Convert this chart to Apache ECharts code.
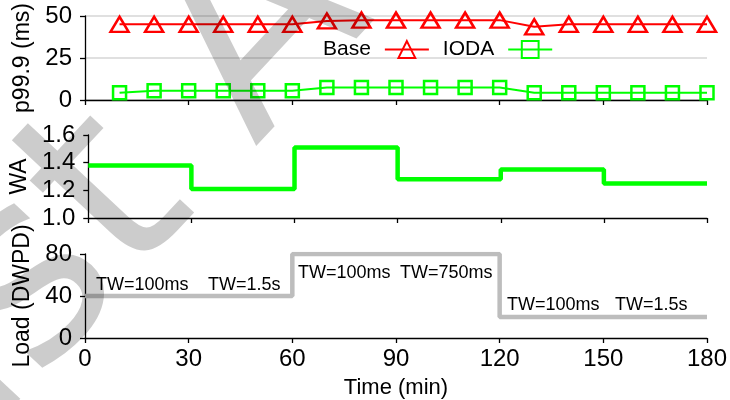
<!DOCTYPE html>
<html>
<head>
<meta charset="utf-8">
<script src="https://cdn.jsdelivr.net/npm/echarts@6/dist/echarts.min.js"></script>
<style>html,body{margin:0;padding:0;background:#fff;}#c{width:730px;height:400px;}</style>
</head>
<body>
<div id="c"></div>
<script>
// ---- data ----
const sampleTimes = [10,20,30,40,50,60,70,80,90,100,110,120,130,140,150,160,170,180];
const baseP999 = [45,45,45,45,45,45,47,47.5,47.5,47.5,47.5,47.5,43.5,45,45,45,45,45];
const iodaP999 = [4.3,5.5,5.5,5.5,5.5,5.5,7.5,7.5,7.5,7.5,7.5,7.5,4.3,4.3,4.3,4.3,4.3,4.3];
const waTimes = [0,30,60,90,120,150,180];
const waValues = [1.38,1.21,1.51,1.28,1.35,1.25,1.25];
const loadTimes = [0,60,120,180];
const loadValues = [40,80,20,20];
const seriesNames = ['Base','IODA'];
const twLabels = ['TW=100ms','TW=1.5s','TW=100ms','TW=750ms','TW=100ms','TW=1.5s'];
const p999Ticks = [0,25,50];
const waTicks = [1.0,1.2,1.4,1.6];
const loadTicks = [0,40,80];
const timeTicks = [0,30,60,90,120,150,180];

// ---- layout/style ----
const FONT = "'Liberation Sans', Arial, Helvetica, sans-serif";
const zip = (xs, ys) => xs.map((x, i) => [x, ys[i]]);
const twPos = [[96,285],[208,285],[298,273],[400,273],[507,305],[615,305]];

function xAxisFor(gi, labels) {
  return {
    type: 'value', gridIndex: gi, min: timeTicks[0], max: timeTicks[timeTicks.length-1], interval: 30,
    axisLine: {show: true, onZero: false, lineStyle: {color: '#000', width: 1.3}},
    axisTick: {show: true, inside: false, length: 5, lineStyle: {color: '#000', width: 1.3}},
    axisLabel: {show: labels, color: '#000', fontSize: 24, fontFamily: FONT, margin: 9},
    splitLine: {show: false},
    name: labels ? 'Time (min)' : '', nameLocation: 'middle', nameGap: 39,
    nameTextStyle: {color: '#000', fontSize: 22, fontFamily: FONT}
  };
}
function yAxisFor(gi, ticks, name, split, fmt) {
  return {
    type: 'value', gridIndex: gi, min: ticks[0], max: ticks[ticks.length-1], interval: ticks[1]-ticks[0],
    axisLine: {show: true, lineStyle: {color: '#000', width: 1.3}},
    axisTick: {show: true, inside: false, length: 5, lineStyle: {color: '#000', width: 1.3}},
    axisLabel: {color: '#000', fontSize: 24, fontFamily: FONT, margin: 13, formatter: fmt},
    splitLine: {show: split, lineStyle: {color: '#d6d6d6', width: 1.5}},
    name: name, nameLocation: 'middle', nameRotate: 90, nameGap: 46,
    nameTextStyle: {color: '#000', fontSize: 23, fontFamily: FONT}
  };
}

const graphics = twLabels.map((t, i) => ({
  type: 'text', x: twPos[i][0], y: twPos[i][1], z: 50,
  style: {text: t, fontSize: 18, fontFamily: FONT, fill: '#000', align: 'left', verticalAlign: 'middle'}
}));
graphics.push({
  type: 'text', x: 427, y: -136, rotation: 0.82, z: 100, silent: true,
  style: {text: 'Just Accepted', fontSize: 260, fontFamily: "'DejaVu Sans', sans-serif", fill: 'rgba(0,0,0,0.2)', align: 'center', verticalAlign: 'middle'}
});

const chart = echarts.init(document.getElementById('c'), null, {renderer: 'canvas'});
chart.setOption({
  animation: false,
  backgroundColor: '#fff',
  textStyle: {fontFamily: FONT},
  grid: [
    {left: 85, right: 23, top: 15, height: 85},
    {left: 85, right: 23, top: 135, height: 83},
    {left: 85, right: 23, top: 254, height: 84}
  ],
  xAxis: [xAxisFor(0, false), xAxisFor(1, false), xAxisFor(2, true)],
  yAxis: [
    yAxisFor(0, p999Ticks, 'p99.9 (ms)', true),
    yAxisFor(1, waTicks, 'WA', false, v => v.toFixed(1)),
    yAxisFor(2, loadTicks, 'Load (DWPD)', false)
  ],
  legend: {
    data: seriesNames, left: 318, top: 34, align: 'right', itemGap: 13,
    itemWidth: 44, itemHeight: 21,
    textStyle: {color: '#000', fontSize: 21, fontFamily: FONT, padding: [0, 9, 0, 0]}
  },
  series: [
    {
      name: seriesNames[0], type: 'line', xAxisIndex: 0, yAxisIndex: 0,
      data: zip(sampleTimes, baseP999),
      symbol: 'triangle', symbolSize: [18, 15], showAllSymbol: true,
      lineStyle: {color: '#ff0000', width: 2},
      itemStyle: {color: 'rgba(255,255,255,0)', borderColor: '#ff0000', borderWidth: 2.5},
      z: 3
    },
    {
      name: seriesNames[1], type: 'line', xAxisIndex: 0, yAxisIndex: 0,
      data: zip(sampleTimes, iodaP999),
      symbol: 'rect', symbolSize: 13, showAllSymbol: true,
      lineStyle: {color: '#00ff00', width: 2},
      itemStyle: {color: 'rgba(255,255,255,0)', borderColor: '#00ff00', borderWidth: 2.5},
      z: 3
    },
    {
      name: 'WA', type: 'line', xAxisIndex: 1, yAxisIndex: 1, step: 'end',
      data: zip(waTimes, waValues), symbol: 'none',
      lineStyle: {color: '#00ff00', width: 4.5}
    },
    {
      name: 'Load', type: 'line', xAxisIndex: 2, yAxisIndex: 2, step: 'end',
      data: zip(loadTimes, loadValues), symbol: 'none',
      lineStyle: {color: '#bdbdbd', width: 4.5}
    }
  ],
  graphic: graphics
});
</script>
</body>
</html>
